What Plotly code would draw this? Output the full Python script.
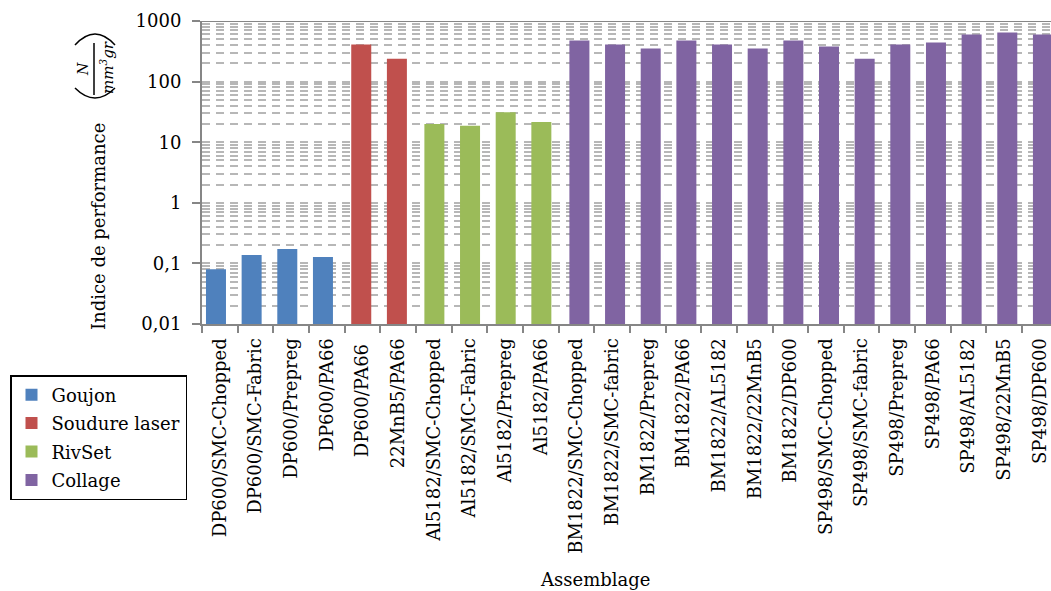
import plotly.graph_objects as go

categories = [
    "DP600/SMC-Chopped", "DP600/SMC-Fabric", "DP600/Prepreg", "DP600/PA66",
    "DP600/PA66 ", "22MnB5/PA66",
    "Al5182/SMC-Chopped", "Al5182/SMC-Fabric", "Al5182/Prepreg", "Al5182/PA66",
    "BM1822/SMC-Chopped", "BM1822/SMC-fabric", "BM1822/Prepreg", "BM1822/PA66",
    "BM1822/AL5182", "BM1822/22MnB5", "BM1822/DP600",
    "SP498/SMC-Chopped", "SP498/SMC-fabric", "SP498/Prepreg", "SP498/PA66",
    "SP498/AL5182", "SP498/22MnB5", "SP498/DP600",
]

goujon_vals = [0.080, 0.137, 0.173, 0.127]
soudure_vals = [409, 239]
rivset_vals = [20.0, 18.6, 31.3, 21.6]
collage_vals = [477, 409, 351, 477, 409, 351, 477, 379, 239, 409, 442, 600, 648, 600]

series_names = ["Goujon", "Soudure laser", "RivSet", "Collage"]
series_values = [goujon_vals, soudure_vals, rivset_vals, collage_vals]
series_colors = ["#4F81BD", "#C0504D", "#9BBB59", "#8064A2"]
series_shift = [-0.108, -0.034, 0.017, 0.084]   # clustered-series offset within category

y_tickvals = [0.01, 0.1, 1, 10, 100, 1000]
y_ticktext = ["0,01", "0,1", "1", "10", "100", "1000"]

FONT = "DejaVu Serif"
AXIS_COLOR = "#868686"
GRID_COLOR = "#B7B7B7"

W, H = 1051, 591
L, R, T, B = 202, 0, 21, 591 - 324
PW, PH = W - L - R, H - T - B
BAR_W = 0.561


def px(x):
    return (x - L) / PW


def py(y):
    return (H - B - y) / PH


fig = go.Figure()
start = 0
for i, (name, vals, col, sh) in enumerate(zip(series_names, series_values, series_colors, series_shift)):
    cats = categories[start:start + len(vals)]
    start += len(vals)
    fig.add_trace(go.Bar(
        x=cats, y=vals, name=name, marker=dict(color=col, line=dict(width=0)),
        width=BAR_W, offset=-BAR_W / 2 + sh,
        legendgroup=f"g{i}",
    ))

fig.update_layout(
    width=W, height=H, autosize=False,
    margin=dict(l=L, r=R, t=T, b=B, pad=0),
    paper_bgcolor="white", plot_bgcolor="white",
    font=dict(family=FONT, size=18, color="black"),
    barmode="overlay",
    showlegend=True,
    legend=dict(
        x=px(10), y=py(375), xanchor="left", yanchor="top",
        bordercolor="black", borderwidth=1.5, bgcolor="white",
        font=dict(family=FONT, size=18, color="black"),
        tracegroupgap=2,
    ),
    xaxis=dict(
        type="category", categoryorder="array", categoryarray=categories,
        range=[-0.5, 23.31],
        showline=True, linecolor=AXIS_COLOR, linewidth=2,
        ticks="outside", ticklen=7, tickwidth=2, tickcolor=AXIS_COLOR,
        tickson="boundaries", tickangle=-90, showgrid=False,
        ticklabelstandoff=5,
        tickfont=dict(family=FONT, size=18, color="black"),
    ),
    yaxis=dict(
        type="log", range=[-2, 3],
        tickmode="array", tickvals=y_tickvals, ticktext=y_ticktext,
        showline=True, linecolor=AXIS_COLOR, linewidth=2,
        ticks="outside", ticklen=8, tickwidth=2, tickcolor=AXIS_COLOR,
        showgrid=True, gridcolor=GRID_COLOR, gridwidth=2, griddash="8px,6px",
        zeroline=False, ticklabelstandoff=7,
        tickfont=dict(family=FONT, size=18, color="black"),
        minor=dict(dtick="D1", showgrid=True, gridcolor=GRID_COLOR, gridwidth=2,
                   griddash="8px,6px", ticks=""),
    ),
)

# top border line at 1000
fig.add_shape(type="line", xref="paper", yref="y", x0=0, x1=1, y0=1000, y1=1000,
              line=dict(color=AXIS_COLOR, width=2), layer="above")

# axis titles
fig.add_annotation(text="Assemblage", xref="paper", yref="paper", x=px(595), y=py(579),
                   showarrow=False, font=dict(family=FONT, size=18, color="black"),
                   xanchor="center", yanchor="middle")
fig.add_annotation(text="Indice de performance", xref="paper", yref="paper",
                   x=px(98), y=py(227), textangle=-90, showarrow=False,
                   font=dict(family=FONT, size=18, color="black"),
                   xanchor="center", yanchor="middle")
# unit fraction (N / mm3 gr), rotated
fig.add_annotation(text="<i>N</i>", xref="paper", yref="paper", x=px(83), y=py(69),
                   textangle=-90, showarrow=False,
                   font=dict(family=FONT, size=14, color="black"),
                   xanchor="center", yanchor="middle")
fig.add_annotation(text="<i>mm<sup>3</sup>gr</i>", xref="paper", yref="paper", x=px(107), y=py(68),
                   textangle=-90, showarrow=False,
                   font=dict(family=FONT, size=15, color="black"),
                   xanchor="center", yanchor="middle")
fig.add_shape(type="line", xref="paper", yref="paper", x0=px(94), x1=px(94), y0=py(43), y1=py(95),
              line=dict(color="black", width=1.5))
# parentheses (rotated)
fig.add_shape(type="path", xref="paper", yref="paper",
              path=f"M {px(75)},{py(88)} Q {px(95)},{py(108)} {px(115)},{py(88)}",
              line=dict(color="black", width=1.5))
fig.add_shape(type="path", xref="paper", yref="paper",
              path=f"M {px(75)},{py(45)} Q {px(95)},{py(23)} {px(115)},{py(45)}",
              line=dict(color="black", width=1.5))

fig.write_html("out.html", config={"displayModeBar": False},
               post_script="document.body.style.margin='0';document.body.style.overflow='hidden';")
